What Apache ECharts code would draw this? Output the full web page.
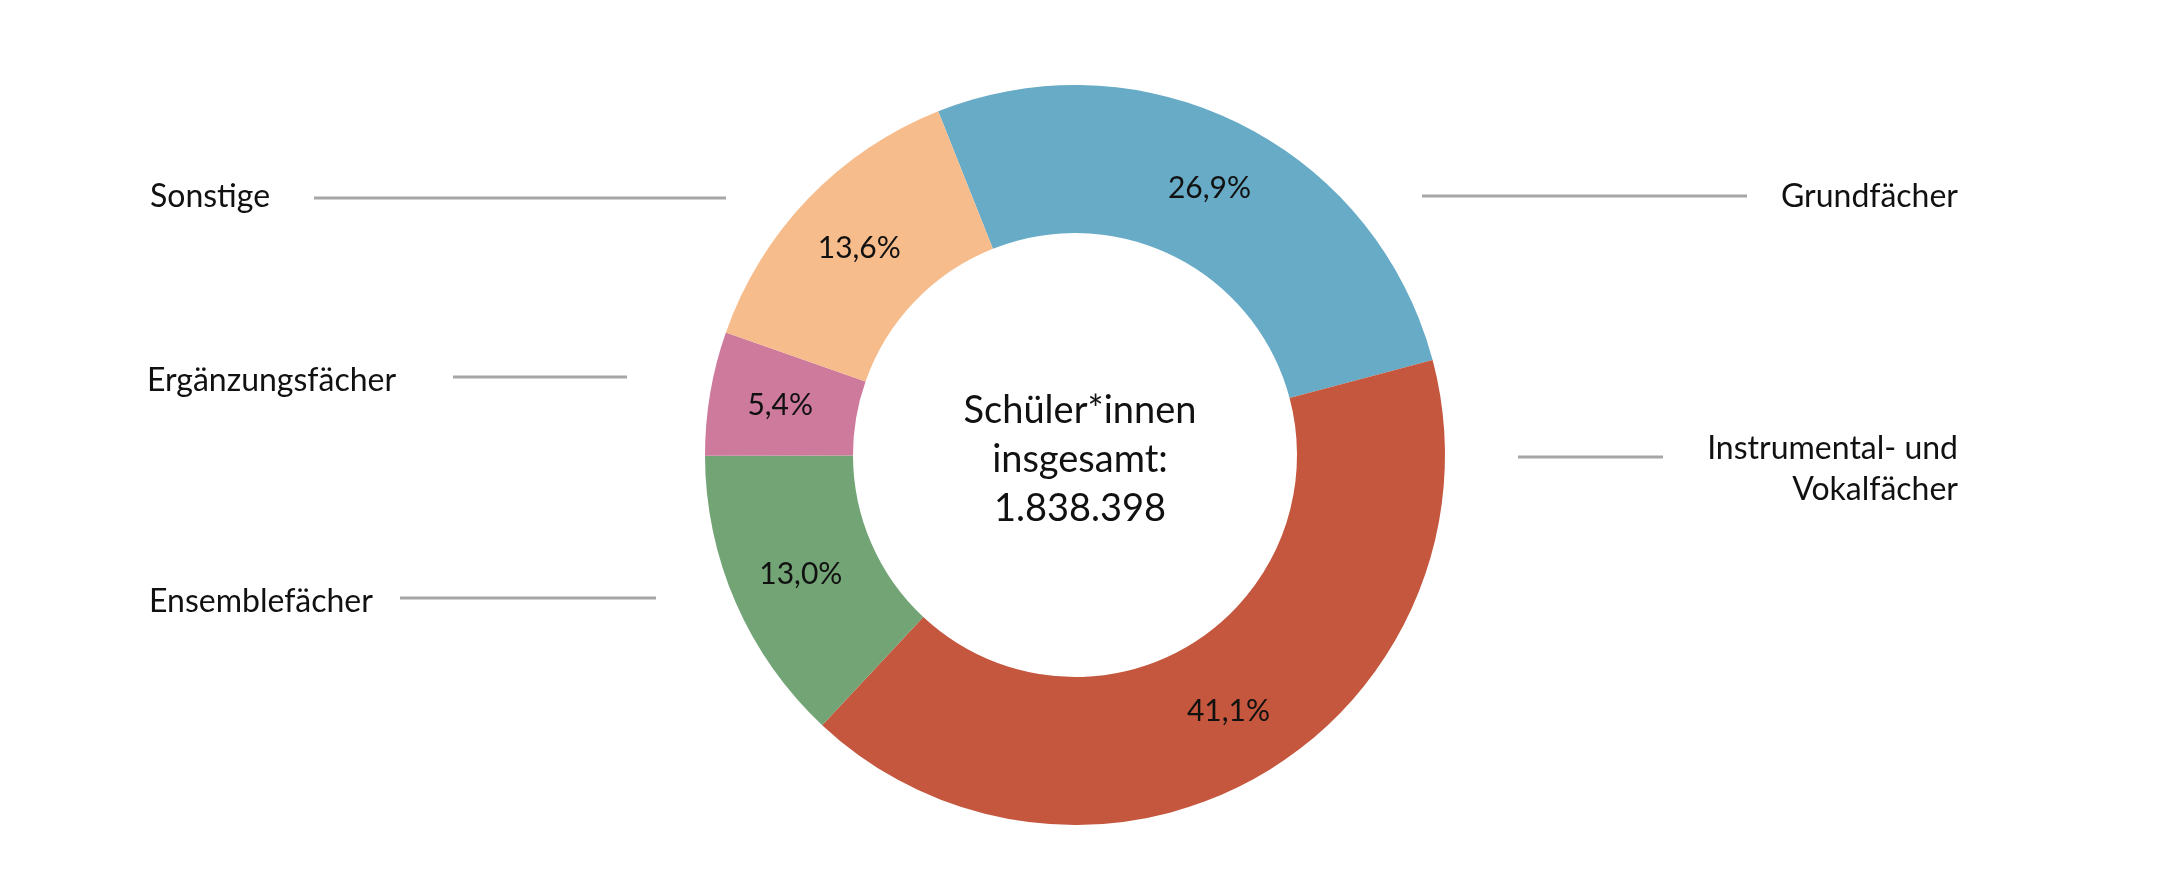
<!DOCTYPE html>
<html>
<head>
<meta charset="utf-8">
<script src="https://cdn.jsdelivr.net/npm/echarts@6/dist/echarts.min.js"></script>
<style>
html,body{margin:0;padding:0;background:#fff;}
#chart{width:2160px;height:890px;}
</style>
</head>
<body>
<div id="chart"></div>
<script>
// Data
const categories = ['Grundfächer', 'Instrumental- und\nVokalfächer', 'Ensemblefächer', 'Ergänzungsfächer', 'Sonstige'];
const shares = [26.9, 41.1, 13.0, 5.4, 13.6];
const colors = ['#67abc7', '#c4573d', '#72a475', '#ce7a9c', '#f7bc8c'];
const centerLines = ['Schüler*innen', 'insgesamt:', '1.838.398'];

// Layout of the outside category labels and their leader lines (pixels)
const labelLayout = [
  { x: 1958, y: 197, align: 'right', line: [1422, 1747, 196] },
  { x: 1958, y: 469, align: 'right', line: [1518, 1663, 457] },
  { x: 149, y: 602, align: 'left', line: [400, 656, 598] },
  { x: 147, y: 381, align: 'left', line: [453, 627, 377] },
  { x: 150, y: 197, align: 'left', line: [314, 726, 198] }
];

const FONT = 'Lato, "Open Sans", sans-serif';

const chart = echarts.init(document.getElementById('chart'));

const graphics = [];
categories.forEach((name, i) => {
  const L = labelLayout[i];
  graphics.push({
    type: 'text',
    left: L.align === 'left' ? L.x : null,
    right: L.align === 'right' ? 2160 - L.x : null,
    top: L.y - (name.indexOf('\n') >= 0 ? 41 : 20.5),
    style: {
      text: name,
      font: '32px ' + FONT,
      fill: '#111',
      textAlign: L.align,
      lineHeight: 41
    }
  });
  graphics.push({
    type: 'line',
    shape: { x1: L.line[0], y1: L.line[2], x2: L.line[1], y2: L.line[2] },
    style: { stroke: '#a6a6a6', lineWidth: 3 }
  });
});

chart.setOption({
  backgroundColor: '#ffffff',
  animation: false,
  title: {
    text: centerLines.join('\n'),
    left: 1075,
    top: 455,
    textAlign: 'center',
    textVerticalAlign: 'middle',
    textStyle: {
      fontFamily: FONT,
      fontSize: 38,
      fontWeight: 'normal',
      color: '#111',
      lineHeight: 49
    }
  },
  graphic: graphics,
  series: [{
    type: 'pie',
    center: [1075, 455],
    radius: [222, 370],
    startAngle: 111.7,
    clockwise: true,
    avoidLabelOverlap: false,
    silent: true,
    label: {
      show: true,
      position: 'inside',
      fontFamily: FONT,
      fontSize: 30,
      color: '#111',
      formatter: p => p.value.toFixed(1).replace('.', ',') + '%'
    },
    labelLine: { show: false },
    itemStyle: { borderWidth: 0 },
    data: categories.map((c, i) => ({ name: c, value: shares[i], itemStyle: { color: colors[i] } }))
  }]
});
</script>
</body>
</html>
